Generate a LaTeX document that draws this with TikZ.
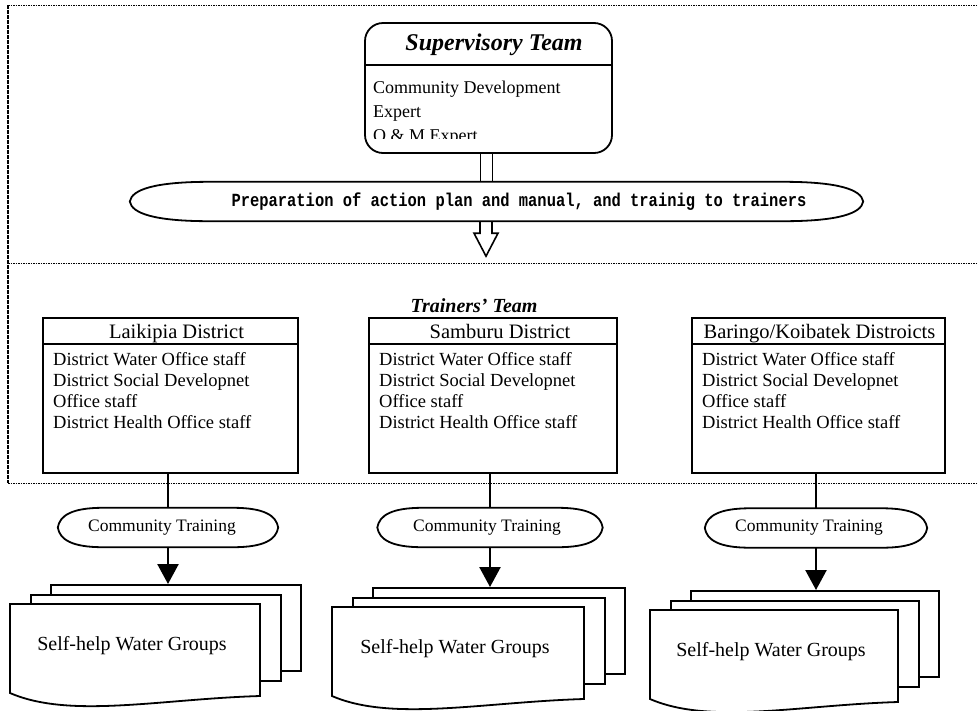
\documentclass[tikz,border=0pt]{standalone}
\usepackage{fontspec}
\usepackage{graphicx}
\setmainfont{Liberation Serif}
\setmonofont{Liberation Mono}
\usetikzlibrary{arrows.meta,calc}

\tikzset{
  boxline/.style={line width=1.8pt},
  connline/.style={line width=2.4pt},
  frameline/.style={line width=0.9pt, dash pattern=on 1.5pt off 1pt},
  edgeline/.style={line width=1.3pt, dash pattern=on 4pt off 1pt},
  titletext/.style={font=\fontsize{#1}{#1}\selectfont\bfseries\itshape, inner sep=0},
  bodytext/.style={font=\fontsize{18.5}{21}\selectfont, inner sep=0, anchor=base west},
  headtext/.style={font=\fontsize{20.5}{22}\selectfont, inner sep=0, anchor=base},
  cttext/.style={font=\fontsize{17.5}{18}\selectfont},
  doctext/.style={font=\fontsize{20}{22}\selectfont, inner sep=0, anchor=base},
  docpage/.style={draw, boxline, fill=white, minimum width=#1, minimum height=86pt,
                  inner sep=0, anchor=north west},
  lensnode/.style={draw=none, inner sep=0, minimum height=39pt},
  bigtip/.style={-{Triangle[width=21pt,length=20pt]}},
}

% lens-shaped outline around an (undrawn) node: #2 = length of the rounded end, #3 = control reach
\newcommand\lensoutline[3]{%
  \draw[boxline] (#1.west)
    .. controls ($(#1.west)+(2,-12)$) and ($(#1.north west)+(#3,0)$) .. ($(#1.north west)+(#2,0)$)
    -- ($(#1.north east)+(-#2,0)$)
    .. controls ($(#1.north east)+(-#3,0)$) and ($(#1.east)+(-2,-12)$) .. (#1.east)
    .. controls ($(#1.east)+(-2,12)$) and ($(#1.south east)+(-#3,0)$) .. ($(#1.south east)+(-#2,0)$)
    -- ($(#1.south west)+(#2,0)$)
    .. controls ($(#1.south west)+(#3,0)$) and ($(#1.west)+(2,12)$) .. (#1.west) -- cycle;}

% district box: #1 name, #2 left x, #3 right x, #4 heading, #5 heading offset
\newcommand\districtbox[5]{%
  \node[draw, boxline, inner sep=0, minimum width={#3-#2}, minimum height=155pt]
    (#1) at ({(#2+#3)/2},395.5) {};
  \draw[boxline] (#1.west |- 0,344) -- (#1.east |- 0,344);
  \node[headtext] (#1head) at ({(#2+#3)/2+#5},338) {#4};
  \foreach \t [count=\i] in {District Water Office staff, District Social Developnet,
                             Office staff, District Health Office staff}
    \node[bodytext] (#1line\i) at (#2+10,344+21*\i) {\t};}

% stack of three sheets: #1 name, #2 x, #3 y (front sheet top left), #4 width
\newcommand\docstack[4]{%
  \begin{scope}[shift={(#2,#3)}]
    \node[docpage=#4] (#1back) at (40,-20) {};
    \node[docpage=#4] (#1mid) at (20,-10) {};
    \draw[boxline, fill=white] (0,89) -- (0,0) -- (#4,0) -- (#4,92)
      .. controls ({#4*0.6},95) and (60,115) .. (0,89) -- cycle;
    \node[doctext] (#1text) at ({#4/2-3},46) {Self-help Water Groups};
  \end{scope}}

\begin{document}
\begin{tikzpicture}[x=1pt,y=-1pt]
\useasboundingbox[fill=white] (0,0) rectangle (977,710);

% dotted frame of the supervisory and trainers' sections
\draw[frameline] (8,5) -- (977,5);
\draw[frameline] (8,263) -- (977,263);
\draw[frameline] (8,483) -- (977,483);
\draw[edgeline] (8,5) -- (8,483);

% supervisory team
\node[draw, boxline, rounded corners=18pt, minimum width=247pt, minimum height=130pt,
      inner sep=0] (sup) at (488.5,88) {};
\draw[boxline] (sup.west |- 0,65) -- (sup.east |- 0,65);
\node[titletext=24, anchor=base] (suptitle) at (494,50) {Supervisory Team};
\begin{scope}
  \clip (366,66) rectangle (611,138);
  \foreach \t/\yy [count=\i] in {Community Development/93, Expert/117, O \& M Expert/141}
    \node[bodytext, font=\fontsize{18}{20}\selectfont] (supline\i) at (373,\yy) {\t};
\end{scope}

% preparation step
\node[lensnode, minimum width=733pt] (prep) at (496.5,201.5) {};
\lensoutline{prep}{80}{25}
\node[font=\fontsize{15.45}{16}\selectfont\ttfamily\bfseries, anchor=base, inner sep=0]
  (preptext) at (519,206)
  {\scalebox{1}[1.2]{Preparation of action plan and manual, and trainig to trainers}};

% double link and hollow arrow
\coordinate (dl) at ([xshift=-8pt]sup.south);
\coordinate (dr) at ([xshift=4pt]sup.south);
\draw[boxline] (dl) -- (dl |- prep.north);
\draw[boxline] (dr) -- (dr |- prep.north);
\coordinate (ha) at ([xshift=-10.5pt]prep.south);
\draw[line width=1.6pt, line join=miter] ([xshift=-6pt]ha) -- ++(0,12) -- ++(-6,0)
  -- ++(12,23) -- ++(12,-23) -- ++(-6,0) -- ++(0,-12);

% trainers' team
\node[titletext=20, anchor=base] (trtitle) at (474,312) {Trainers' Team};
\districtbox{lai}{43}{298}{Laikipia District}{6}
\districtbox{sam}{369}{617}{Samburu District}{7}
\districtbox{bar}{692}{945}{Baringo/Koibatek Distroicts}{1}

% community training
\node[lensnode, minimum width=220pt, cttext] (ct1) at (168,527.5) {Community Training\hspace*{12pt}};
\node[lensnode, minimum width=225pt, cttext] (ct2) at (490,527.5) {Community Training\hspace*{6pt}};
\node[lensnode, minimum width=222pt, cttext] (ct3) at (816,528) {Community Training\hspace*{14pt}};
\lensoutline{ct1}{45}{14}
\lensoutline{ct2}{45}{14}
\lensoutline{ct3}{45}{14}
\draw[connline] (ct1 |- lai.south) -- (ct1.north);
\draw[connline] (ct2 |- sam.south) -- (ct2.north);
\draw[connline] (ct3 |- bar.south) -- (ct3.north);

% self-help water groups
\docstack{sg1}{10}{604}{250}
\docstack{sg2}{332}{607}{252}
\docstack{sg3}{650}{610}{248}
\draw[connline, bigtip] (ct1.south) -- (ct1.south |- sg1back.north);
\draw[connline, bigtip] (ct2.south) -- (ct2.south |- sg2back.north);
\draw[connline, bigtip] (ct3.south) -- (ct3.south |- sg3back.north);
\end{tikzpicture}
\end{document}
